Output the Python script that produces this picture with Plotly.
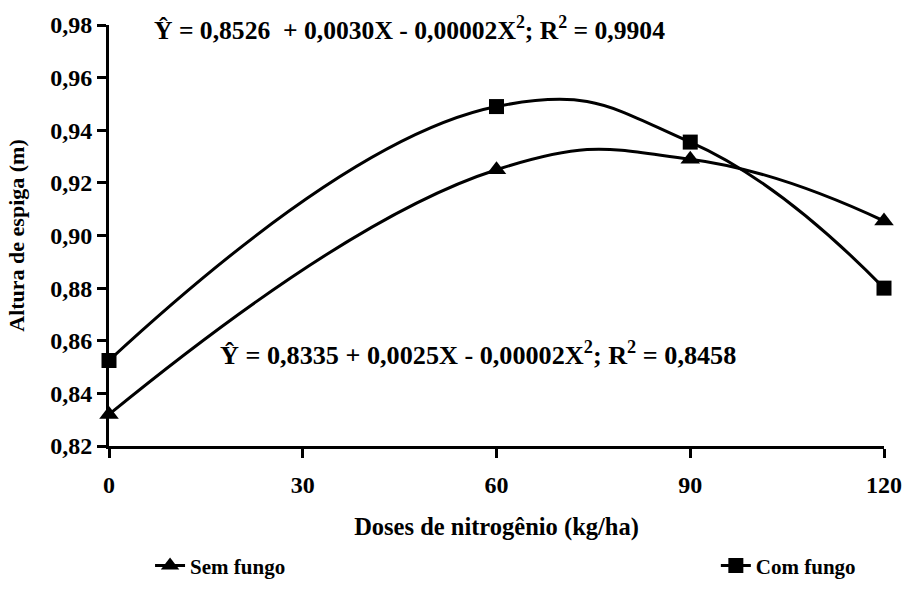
import plotly.graph_objects as go

doses = [0, 30, 60, 90, 120]
dose_points = [0, 60, 90, 120]
sem_fungo = [0.832, 0.925, 0.929, 0.9055]
com_fungo = [0.8525, 0.949, 0.9355, 0.880]
y_ticks = [0.82, 0.84, 0.86, 0.88, 0.90, 0.92, 0.94, 0.96, 0.98]
y_tick_labels = ["0,82", "0,84", "0,86", "0,88", "0,90", "0,92", "0,94", "0,96", "0,98"]
eq_com = "Ŷ = 0,8526  + 0,0030X - 0,00002X<sup>2</sup>; R<sup>2</sup> = 0,9904"
eq_sem = "Ŷ = 0,8335 + 0,0025X - 0,00002X<sup>2</sup>; R<sup>2</sup> = 0,8458"

FONT = "Liberation Serif"

fig = go.Figure()
fig.add_trace(go.Scatter(
    x=dose_points, y=sem_fungo, name="<b>Sem fungo</b>", mode="lines+markers",
    line=dict(color="black", width=3, shape="spline", smoothing=1.3),
    marker=dict(symbol="triangle-up", size=17, color="black"),
    legend="legend", cliponaxis=False,
))
fig.add_trace(go.Scatter(
    x=dose_points, y=com_fungo, name="<b>Com fungo</b>", mode="lines+markers",
    line=dict(color="black", width=3, shape="spline", smoothing=1.3),
    marker=dict(symbol="square", size=15, color="black"),
    legend="legend2", cliponaxis=False,
))

fig.add_annotation(xref="x", yref="y", x=6.7, y=0.9787, xanchor="left", yanchor="middle",
                   text="<b>" + eq_com + "</b>", showarrow=False,
                   font=dict(family=FONT, size=25.6, color="black"))
fig.add_annotation(xref="x", yref="y", x=16.9, y=0.8552, xanchor="left", yanchor="middle",
                   text="<b>" + eq_sem + "</b>", showarrow=False,
                   font=dict(family=FONT, size=26.2, color="black"))

legend_common = dict(orientation="h", yanchor="middle", xanchor="left",
                     bgcolor="rgba(0,0,0,0)",
                     font=dict(family=FONT, size=21, color="black"))

fig.update_layout(
    width=914, height=610,
    margin=dict(l=109, r=21, t=17, b=164),
    paper_bgcolor="white", plot_bgcolor="white",
    font=dict(family=FONT, size=22, color="black"),
    showlegend=True,
    legend=dict(x=(151 - 109.5) / 783.5, y=-122 / 428.5, **legend_common),
    legend2=dict(x=(723 - 109.5) / 783.5, y=-122 / 428.5, **legend_common),
    xaxis=dict(range=[0, 120], tickvals=doses, ticktext=["<b>%d</b>" % d for d in doses],
               showline=True, linecolor="black", linewidth=3, ticks="outside",
               ticklen=9, tickwidth=2.5, tickcolor="black", showgrid=False, zeroline=False,
               title=dict(text="<b>Doses de nitrogênio (kg/ha)</b>", standoff=22,
                          font=dict(family=FONT, size=24.5, color="black")),
               tickfont=dict(family=FONT, size=24, color="black"), ticklabelstandoff=6),
    yaxis=dict(range=[0.82, 0.98], tickvals=y_ticks,
               ticktext=["<b>%s</b>" % t for t in y_tick_labels],
               showline=True, linecolor="black", linewidth=3, ticks="outside",
               ticklen=9, tickwidth=2.5, tickcolor="black", showgrid=False, zeroline=False,
               title=dict(text="<b>Altura de espiga (m)</b>", standoff=20,
                          font=dict(family=FONT, size=22, color="black")),
               tickfont=dict(family=FONT, size=24, color="black")),
)

fig.write_html("out.html")
